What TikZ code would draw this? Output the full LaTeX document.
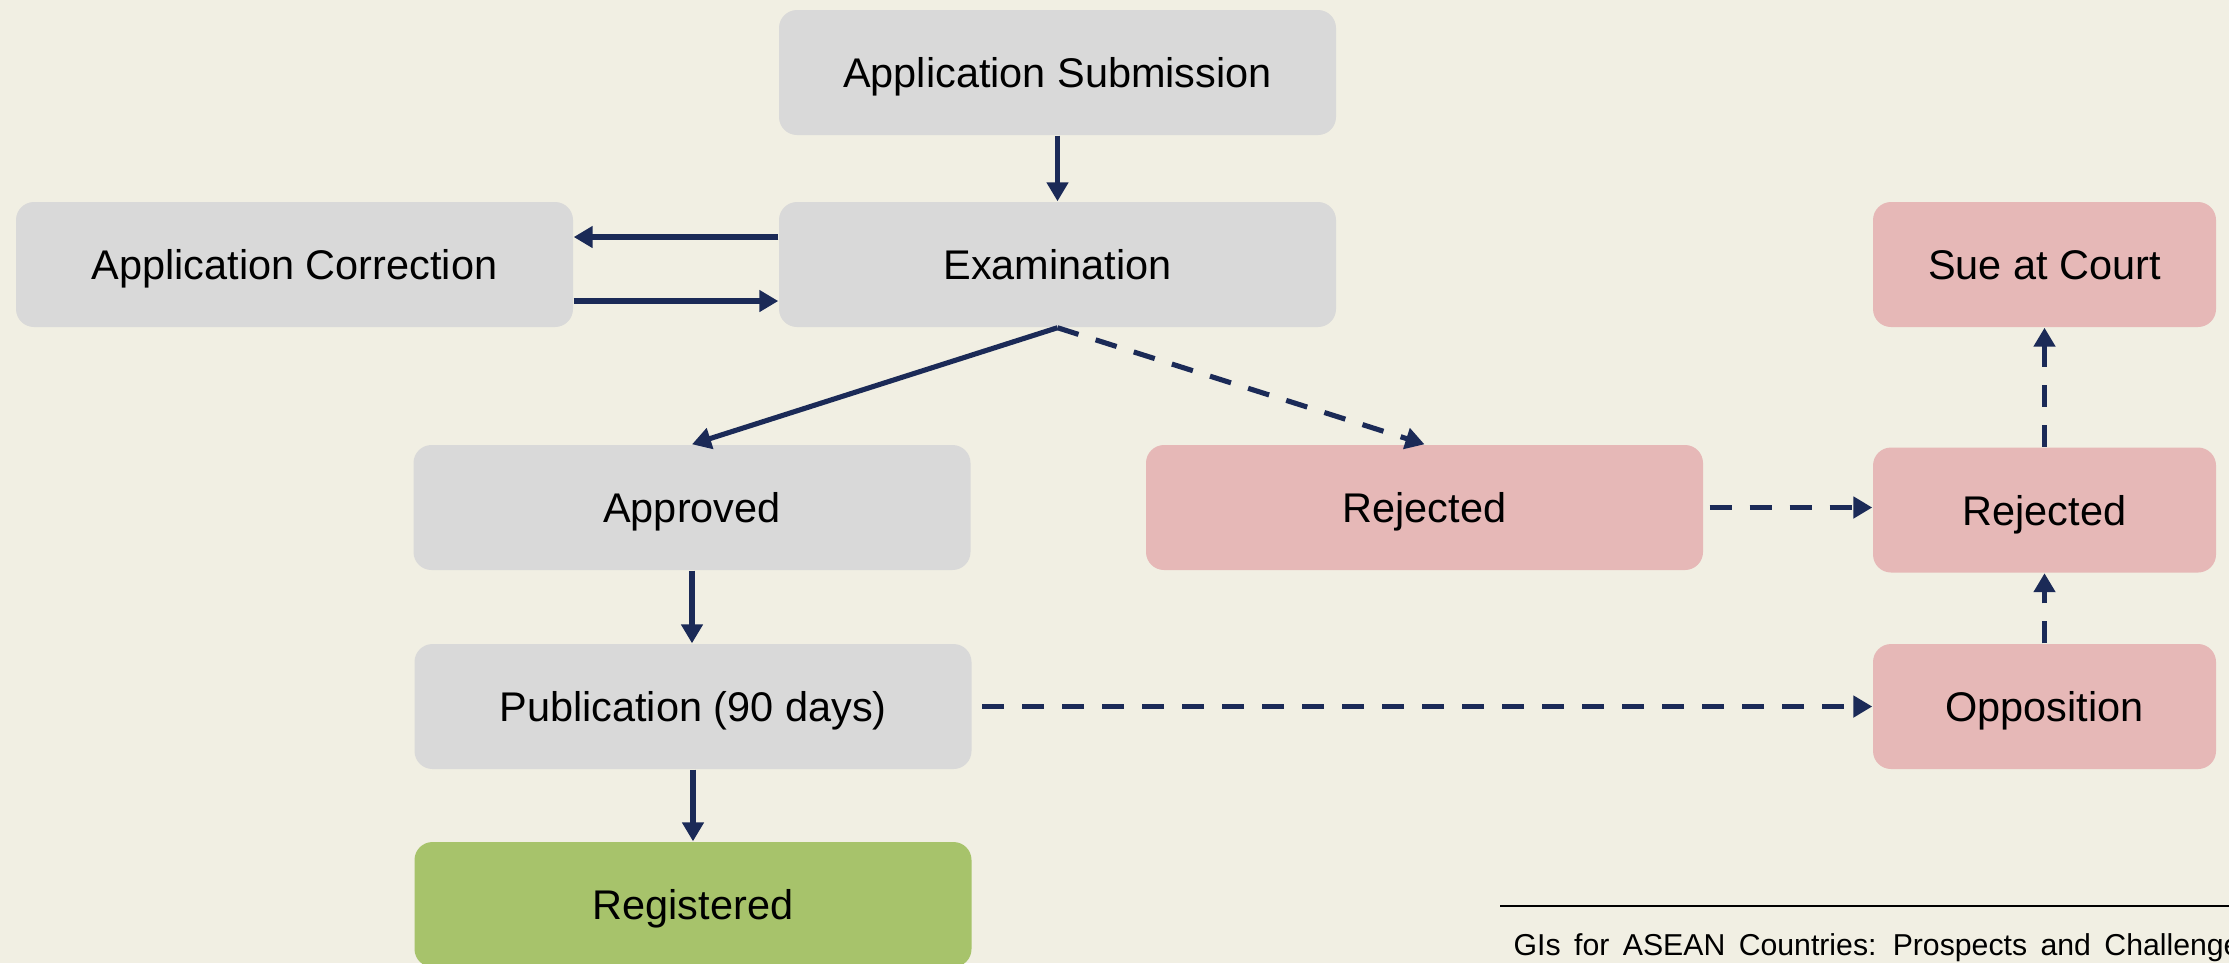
\documentclass[tikz,border=0pt]{standalone}
\usepackage{fontspec}
\setmainfont{Liberation Sans}
\newfontfamily\footfont{Liberation Sans}[WordSpace=1.6]
\usetikzlibrary{arrows.meta}

\definecolor{bgcream}{HTML}{F1EFE3}
\definecolor{boxgrey}{HTML}{D9D9D9}
\definecolor{boxpink}{HTML}{E6B8B7}
\definecolor{boxgreen}{HTML}{A7C36B}
\definecolor{navy}{HTML}{1B2A57}

\begin{document}
\begin{tikzpicture}[
    box/.style={rectangle, rounded corners=0.18cm, minimum height=1.25cm, inner sep=0pt, text height=0.3cm, text depth=0cm, text=black, font=\fontsize{11.8}{14}\selectfont},
    widebox/.style={box, minimum width=5.57cm},
    narrowbox/.style={box, minimum width=3.43cm},
    flow/.style={draw=navy, line width=1.45pt, -{Triangle[length=0.19cm,width=0.21cm]}},
    flowdash/.style={flow, dash pattern=on 0.22cm off 0.18cm}
  ]
        \fill[bgcream] (0,0) rectangle (22.29,-9.63);
        \useasboundingbox (0,0) rectangle (22.29,-9.63);

        % main column
        \node[widebox, fill=boxgrey] (submit) at (10.575,-0.725) {Application Submission};
        \node[widebox, fill=boxgrey] (exam) at (10.575,-2.645) {Examination};
        \node[widebox, fill=boxgrey] (correct) at (2.945,-2.645) {Application Correction};
        \node[widebox, fill=boxgrey] (approved) at (6.92,-5.075) {Approved};
        \node[widebox, fill=boxpink] (reject) at (14.245,-5.075) {Rejected};
        \node[widebox, fill=boxgrey] (publish) at (6.93,-7.065) {Publication (90 days)};
        \node[widebox, fill=boxgreen] (register) at (6.93,-9.045) {Registered};

        % right column
        \node[narrowbox, fill=boxpink] (court) at (20.445,-2.645) {Sue at Court};
        \node[narrowbox, fill=boxpink] (rejectb) at (20.445,-5.10) {Rejected};
        \node[narrowbox, fill=boxpink] (oppose) at (20.445,-7.065) {Opposition};

        \draw[flow] (submit.south) -- (exam.north);
        \draw[flow] ([yshift=0.275cm]exam.west) -- ([yshift=0.275cm]correct.east);
        \draw[flow] ([yshift=-0.365cm]correct.east) -- ([yshift=-0.365cm]exam.west);
        \draw[flow] (exam.south) -- (approved.north);
        \draw[flowdash] (exam.south) -- (reject.north);
        \draw[flow] (approved.south) -- (approved.south |- publish.north);
        \draw[flow] (publish.south) -- (register.north);

        \draw[flowdash, shorten <=0.06cm] (reject.east) -- (reject.east -| rejectb.west);
        \draw[flowdash, shorten <=0.1cm] (publish.east) -- (oppose.west);
        \draw[flowdash] (oppose.north) -- (rejectb.south);
        \draw[flowdash] (rejectb.north) -- (court.south);

        % footer
        \draw[line width=0.6pt] (15.0,-9.06) -- (22.29,-9.06);
        \node[anchor=base west, inner sep=0pt, font=\footfont\fontsize{8.6}{10}\selectfont] (footer) at (15.13,-9.55) {GIs for ASEAN Countries: Prospects and Challenges};
      \end{tikzpicture}
\end{document}
